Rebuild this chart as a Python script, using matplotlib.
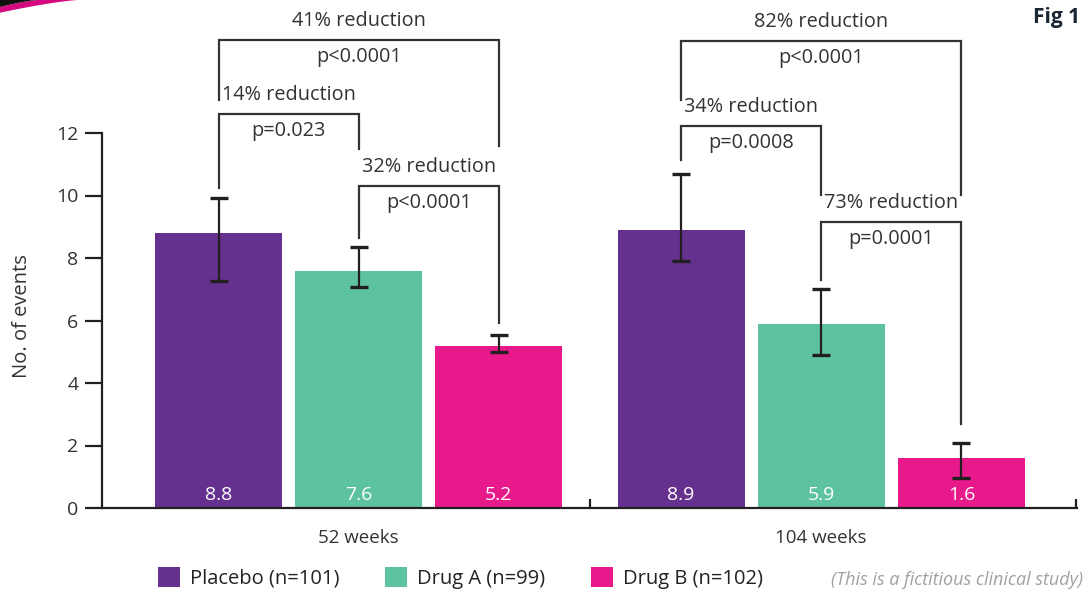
import numpy as np
import matplotlib.pyplot as plt
from matplotlib.patches import Patch, Polygon

plt.rcParams['font.family'] = ['Open Sans', 'DejaVu Sans']

groups = ['52 weeks', '104 weeks']
arms = ['Placebo (n=101)', 'Drug A (n=99)', 'Drug B (n=102)']
colors = ['#66308f', '#5dc2a0', '#e8198b']

# mean events per arm, one row per time point
events = [[8.8, 7.6, 5.2],
          [8.9, 5.9, 1.6]]
err_low = [[7.26, 7.07, 5.0],
           [7.9, 4.9, 0.96]]
err_high = [[9.92, 8.35, 5.54],
            [10.69, 7.0, 2.08]]

# (group, arm a, arm b, reduction text, p value)
comparisons = [
    (0, 0, 2, '41% reduction', 'p<0.0001'),
    (0, 0, 1, '14% reduction', 'p=0.023'),
    (0, 1, 2, '32% reduction', 'p<0.0001'),
    (1, 0, 2, '82% reduction', 'p<0.0001'),
    (1, 0, 1, '34% reduction', 'p=0.0008'),
    (1, 1, 2, '73% reduction', 'p=0.0001'),
]
# bracket top, left leg end, right leg end
bracket_y = [(14.98, 13.06, 11.58),
             (12.61, 10.24, 11.49),
             (10.30, 8.64, 5.92),
             (14.94, 13.06, 10.02),
             (12.22, 11.14, 10.02),
             (9.15, 7.30, 2.69)]

text_col = '#333333'
ink = '#231f20'
group_gap = 3.3
bar_w = 0.907

fig = plt.figure(figsize=(10.85, 5.92), dpi=100)
ax = fig.add_axes([102 / 1085, 84 / 592, 975 / 1085, 508 / 592])


def xpos(g, i):
    return g * group_gap + (i - 1)


for g in range(len(groups)):
    for i in range(len(arms)):
        x = xpos(g, i)
        h = events[g][i]
        ax.bar(x, h, width=bar_w, color=colors[i], zorder=2)
        ax.errorbar(x, h, yerr=[[h - err_low[g][i]], [err_high[g][i] - h]],
                    fmt='none', ecolor=ink, elinewidth=1.6, capsize=6.5,
                    capthick=2.4, zorder=3)
        ax.text(x, 0.42, f'{h:.1f}', ha='center', va='center',
                color='white', fontsize=14, zorder=4)

# significance brackets
for (g, a, b, red, p), (top, ya, yb) in zip(comparisons, bracket_y):
    xa, xb = xpos(g, a), xpos(g, b)
    ax.plot([xa, xa, xb, xb], [ya, top, top, yb], color=text_col,
            lw=1.6, solid_joinstyle='miter', clip_on=False, zorder=3)
    xm = (xa + xb) / 2
    ax.text(xm, top + 0.6, red, ha='center', va='center', fontsize=14.3,
            color=text_col)
    ax.text(xm, top - 0.55, p, ha='center', va='center', fontsize=14.3,
            color=text_col)

ax.set_xlim(-1.832, 5.125)
ax.set_ylim(0, 16.256)
for s in ['top', 'right']:
    ax.spines[s].set_visible(False)
ax.spines['left'].set_bounds(0, 12)
for s in ['left', 'bottom']:
    ax.spines[s].set_color(ink)
    ax.spines[s].set_linewidth(1.6)

ax.set_yticks(np.arange(0, 13, 2))
ax.tick_params(axis='y', length=12, width=1.6, color=ink, pad=5,
               labelsize=14, labelcolor=text_col)
ax.set_ylabel('No. of events', fontsize=14.5, color=text_col)
ax.yaxis.set_label_coords(-0.072, 0.378)

ax.set_xticks([xpos(g, 1) for g in range(len(groups))])
ax.set_xticklabels(groups)
ax.tick_params(axis='x', which='major', length=0, pad=15, labelsize=13.5,
               labelcolor=text_col)
ax.set_xticks([group_gap / 2, 5.12], minor=True)
ax.tick_params(axis='x', which='minor', direction='in', length=6.5,
               width=1.6, color=ink)

handles = [Patch(facecolor=c, edgecolor='none') for c in colors]
fig.legend(handles, arms, loc='center left', bbox_to_anchor=(158 / 1085, 14 / 592),
           ncol=3, frameon=False, fontsize=14.5, handlelength=1.1,
           handleheight=1.1, handletextpad=0.5, columnspacing=2.25,
           borderpad=0, borderaxespad=0, labelcolor='#222222')

fig.text(1083 / 1085, 12 / 592, '(This is a fictitious clinical study)',
         ha='right', va='center', fontsize=13, style='italic', color='#a0a0a0')
fig.text(1080 / 1085, 574 / 592, 'Fig 1', ha='right', va='center',
         fontsize=15, fontweight='bold', color='#1b2634')

# corner swoosh
xs = np.linspace(0, 78, 30)
lower = 12.7 * (1 - xs / 78) ** 1.3
xb = np.linspace(0, 37, 20)
upper = 7 * (1 - xb / 37) ** 1.3
band = np.column_stack([np.r_[xs, xb[::-1]], np.r_[lower, upper[::-1]]])
band = np.column_stack([band[:, 0] / 1085, 1 - band[:, 1] / 592])
fig.patches.append(Polygon(band, closed=True, facecolor='#d4087f',
                           edgecolor='none', transform=fig.transFigure))
dark = np.column_stack([np.r_[0, xb], np.r_[0, upper]])
dark = np.column_stack([dark[:, 0] / 1085, 1 - dark[:, 1] / 592])
fig.patches.append(Polygon(dark, closed=True, facecolor='#111111',
                           edgecolor='none', transform=fig.transFigure))

fig.savefig('out.png', dpi=100)
